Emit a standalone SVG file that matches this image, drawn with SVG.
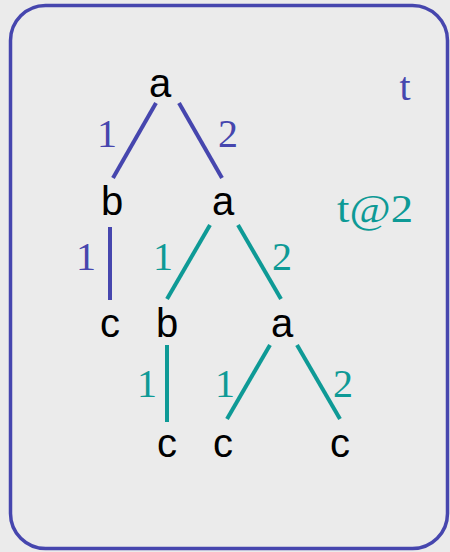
<svg xmlns="http://www.w3.org/2000/svg" width="450" height="552" viewBox="0 0 450 552">
<style>
.node{font-family:"Liberation Sans",Arial,sans-serif;font-size:40px;fill:#000;text-anchor:middle}
.lab{font-family:"Liberation Serif","Times New Roman",serif;font-size:40px;text-anchor:middle}
.b{stroke:#4646ae;stroke-width:4;fill:none}
.t{stroke:#0e9a96;stroke-width:4;fill:none}
.lb{fill:#4646ae}
.lt{fill:#0e9a96}
</style>
<rect x="0" y="0" width="450" height="552" fill="#ebebeb"/>
<rect id="frame" x="10.5" y="5.5" width="437" height="543" rx="35" fill="#ebebeb" stroke="#4646ae" stroke-width="3.5"/>
<g id="connectors">
<line class="b" x1="156" y1="103" x2="113" y2="178"/>
<line class="b" x1="179" y1="103" x2="222" y2="178"/>
<line class="b" x1="110" y1="227" x2="110" y2="300"/>
<line class="t" x1="210" y1="225" x2="167" y2="299"/>
<line class="t" x1="238" y1="225" x2="281" y2="299"/>
<line class="t" x1="167" y1="345" x2="167" y2="422"/>
<line class="t" x1="270" y1="345" x2="227" y2="419"/>
<line class="t" x1="297" y1="345" x2="340" y2="419"/>
</g>
<g id="edge-labels">
<text class="lab lb" x="107" y="147">1</text>
<text class="lab lb" x="228" y="147">2</text>
<text class="lab lb" x="86" y="270">1</text>
<text class="lab lt" x="163" y="270">1</text>
<text class="lab lt" x="282" y="270">2</text>
<text class="lab lt" x="147" y="397">1</text>
<text class="lab lt" x="225" y="397">1</text>
<text class="lab lt" x="343" y="397">2</text>
</g>
<g id="n-root"><text class="node" x="160" y="97">a</text></g>
<g id="n-b1"><text class="node" x="112" y="215">b</text></g>
<g id="n-a1"><text class="node" x="223" y="215">a</text></g>
<g id="n-c1"><text class="node" x="110" y="337">c</text></g>
<g id="n-b2"><text class="node" x="167" y="337">b</text></g>
<g id="n-a2"><text class="node" x="282" y="337">a</text></g>
<g id="n-c2"><text class="node" x="167" y="457">c</text></g>
<g id="n-c3"><text class="node" x="223" y="457">c</text></g>
<g id="n-c4"><text class="node" x="340" y="457">c</text></g>
<g id="legend">
<text class="lab lb" x="405" y="100">t</text>
<text class="lab lt" x="375" y="222" textLength="76" lengthAdjust="spacingAndGlyphs">t@2</text>
</g>
</svg>
